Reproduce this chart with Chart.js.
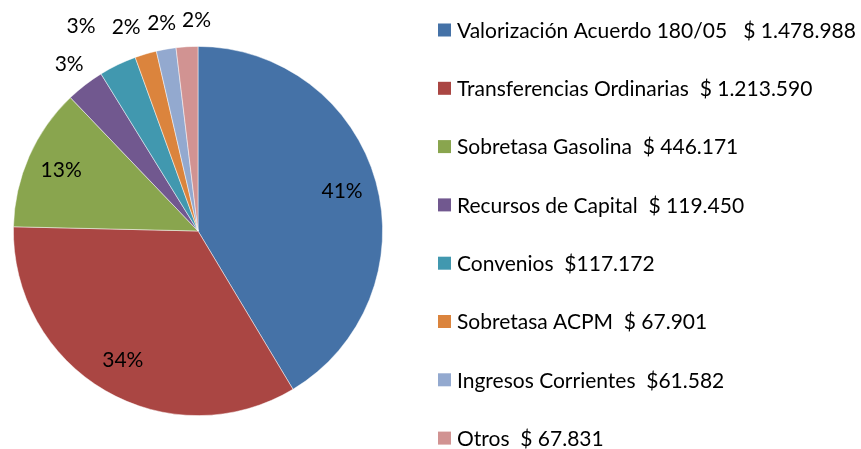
<!DOCTYPE html>
<html>
<head>
<meta charset="utf-8">
<script src="https://cdn.jsdelivr.net/npm/chart.js@4/dist/chart.umd.min.js"></script>
<style>
  html, body { margin: 0; padding: 0; background: #fff; }
  #wrap { width: 861px; height: 449px; }
</style>
</head>
<body>
<div id="wrap"><canvas id="pieChart" width="861" height="449"></canvas></div>
<script>
const categories = [
  "Valorización Acuerdo 180/05",
  "Transferencias Ordinarias",
  "Sobretasa Gasolina",
  "Recursos de Capital",
  "Convenios",
  "Sobretasa ACPM",
  "Ingresos Corrientes",
  "Otros"
];
const values = [1478988, 1213590, 446171, 119450, 117172, 67901, 61582, 67831];
const amountLabels = ["$ 1.478.988", "$ 1.213.590", "$ 446.171", "$ 119.450", "$117.172", "$ 67.901", "$61.582", "$ 67.831"];
const gaps = ["   ", "  ", "  ", "  ", "  ", "  ", "  ", "  "];

const colors = ["#4572A7", "#AA4643", "#89A54E", "#71588F", "#4198AF", "#DB843D", "#93A9CF", "#D19392"];
const FONT = "21px Lato, Carlito, Calibri, sans-serif";

// ajustes de etiquetas fuera del pastel (px extra, grados)
const outsideNudge = { 4: { r: 25, a: -4 }, 5: { r: 5, a: -3 }, 7: { r: 0, a: 3 } };

// porcentajes enteros que suman 100 (como Excel)
function roundedPercents(vals) {
  const total = vals.reduce((a, b) => a + b, 0);
  const raw = vals.map((v) => (v / total) * 100);
  const out = raw.map(Math.floor);
  let left = 100 - out.reduce((a, b) => a + b, 0);
  raw
    .map((r, i) => [r - Math.floor(r), i])
    .sort((a, b) => b[0] - a[0])
    .slice(0, left)
    .forEach(([, i]) => out[i]++);
  return out;
}

const labelsPlugin = {
  id: "pieLabels",
  afterDatasetsDraw(chart) {
    const ctx = chart.ctx;
    const meta = chart.getDatasetMeta(0);
    const total = values.reduce((a, b) => a + b, 0);
    const pcts = roundedPercents(values);
    ctx.save();
    ctx.font = FONT;
    ctx.fillStyle = "#000";
    ctx.textAlign = "center";
    ctx.textBaseline = "middle";
    meta.data.forEach((arc, i) => {
      let mid = (arc.startAngle + arc.endAngle) / 2;
      let r;
      if (values[i] / total > 0.05) {
        r = arc.outerRadius * 0.81;
      } else {
        const n = outsideNudge[i] || { r: 0, a: 0 };
        r = arc.outerRadius + 26 + n.r;
        mid += n.a * Math.PI / 180;
      }
      const x = arc.x + Math.cos(mid) * r;
      const y = arc.y + Math.sin(mid) * r;
      ctx.fillText(pcts[i] + "%", x, y);
    });
    ctx.restore();
  }
};

const legendPlugin = {
  id: "sideLegend",
  afterDraw(chart) {
    const ctx = chart.ctx;
    ctx.save();
    ctx.font = FONT;
    ctx.textBaseline = "middle";
    categories.forEach((name, i) => {
      const cy = 30 + i * 58.3;
      ctx.fillStyle = colors[i];
      ctx.fillRect(438, cy - 6.5, 13, 13);
      ctx.fillStyle = "#000";
      ctx.fillText(name + gaps[i] + amountLabels[i], 457, cy + 1);
    });
    ctx.restore();
  }
};

new Chart(document.getElementById("pieChart"), {
  type: "pie",
  data: {
    labels: categories,
    datasets: [{
      data: values,
      backgroundColor: colors,
      borderColor: "rgba(255,255,255,0.6)",
      borderWidth: 0.8
    }]
  },
  options: {
    responsive: false,
    animation: false,
    layout: { padding: { left: 12, top: 46, right: 477, bottom: 33 } },
    plugins: {
      legend: { display: false },
      tooltip: { enabled: false }
    }
  },
  plugins: [labelsPlugin, legendPlugin]
});
</script>
</body>
</html>
